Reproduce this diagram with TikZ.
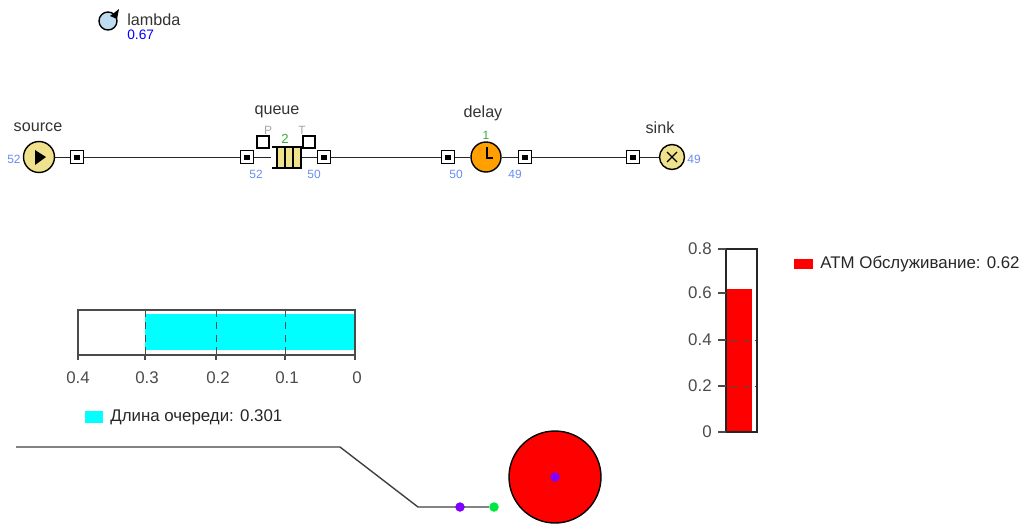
\documentclass[tikz,border=0pt]{standalone}
\usepackage{fontspec}
\setmainfont{Liberation Sans}
\usepackage{xcolor}
\usetikzlibrary{shapes.geometric, arrows}
\definecolor{blockyellow}{RGB}{240,225,140}
\definecolor{delayorange}{RGB}{255,160,0}
\definecolor{countblue}{RGB}{105,140,240}
\definecolor{lambdablue}{RGB}{190,220,240}
\definecolor{tickgray}{RGB}{75,75,75}
\definecolor{barcyan}{RGB}{0,255,255}
\definecolor{barred}{RGB}{255,0,0}
\definecolor{agentviolet}{RGB}{128,0,255}
\definecolor{agentgreen}{RGB}{0,230,64}
\definecolor{sizegreen}{RGB}{60,170,60}
\tikzstyle{port} = [draw,line width=0.8pt,fill=white,minimum size=0.25cm,inner sep=0pt]
\tikzstyle{block} = [circle,draw,line width=0.8pt,inner sep=0pt]
\tikzstyle{flag} = [draw,line width=0.8pt,fill=white,minimum size=0.24cm,inner sep=0pt]
\tikzstyle{blockname} = [font=\fontsize{9.2}{9.2}\selectfont,text=black!80,inner sep=0pt]
\tikzstyle{counter} = [font=\fontsize{6.8}{6.8}\selectfont,text=countblue,inner sep=0pt]
\tikzstyle{chartlabel} = [font=\fontsize{9.6}{9.6}\selectfont,text=tickgray,inner sep=0pt]
\tikzstyle{legend} = [font=\fontsize{9.6}{9.6}\selectfont,text=black!85,inner sep=0pt]
\tikzstyle{wire} = [line width=0.55pt,black!85]
\tikzstyle{griddash} = [tickgray,line width=0.5pt,dashed,dash pattern=on 4pt off 3pt]
\tikzstyle{agent} = [circle,minimum size=0.19cm,inner sep=0pt]
\begin{document}
\begin{tikzpicture}[x=0.02cm,y=-0.02cm]
	\useasboundingbox (0,0) rectangle (1026,524);
	
	% Parameter:
	\node [block,fill=lambdablue,minimum size=0.36cm] (lambda) at (108,21) {};
	\fill (110,16) -- (119,9) -- (117,19) -- cycle;
	\node [blockname,anchor=west] (lambdaname) at (127,20) {lambda};
	\node [counter,anchor=west,text=blue,font=\fontsize{7.8}{7.8}\selectfont] (lambdavalue) at (127,35) {0.67};
	
	% Blocks:
	\node [block,fill=blockyellow,minimum size=0.62cm] (source) at (39,157) {};
	\node [port] (sourceout) at (77,157) {};
	\node [port] (queuein) at (247,157) {};
	\coordinate (queueleft) at (271,157);
	\coordinate (queueright) at (302,157);
	\node [port] (queueout) at (324,157) {};
	\node [port] (delayin) at (448,157) {};
	\node [block,fill=delayorange,minimum size=0.6cm] (delay) at (486,157) {};
	\node [port] (delayout) at (525,157) {};
	\node [port] (sinkin) at (633,157) {};
	\node [block,fill=blockyellow,minimum size=0.5cm] (sink) at (672,157) {};
	
	% Connections:
	\draw [wire] (source) -- (sourceout);
	\draw [wire] (sourceout) -- (queuein);
	\draw [wire] (queuein) -- (queueleft);
	\draw [wire] (queueright) -- (queueout);
	\draw [wire] (queueout) -- (delayin);
	\draw [wire] (delayin) -- (delay);
	\draw [wire] (delay) -- (delayout);
	\draw [wire] (delayout) -- (sinkin);
	\draw [wire] (sinkin) -- (sink);
	
	% Port centres:
	\foreach \p in {sourceout,queuein,queueout,delayin,delayout,sinkin}{%
		\fill [black] ([xshift=-0.06cm,yshift=-0.05cm]\p.center) rectangle ([xshift=0.06cm,yshift=0.05cm]\p.center);
	}
	
	% Queue:
	\fill [blockyellow] (277,148) rectangle (301,167);
	\foreach \x in {277,285,293,301}{%
		\draw [line width=1pt] (\x,148) -- (\x,168);
	}
	\draw [line width=0.8pt] (272,147) -- (302,147);
	\draw [line width=0.8pt] (272,168) -- (302,168);
	\node [flag] (flagp) at (263,142) {};
	\node [flag] (flagt) at (309,142) {};
	
	% Block symbols:
	\fill (35,150) -- (46,157) -- (35,165) -- cycle;
	\draw [line width=0.9pt] (487,147) -- (487,158) -- (493,158);
	\draw [line width=0.7pt] (667,152) -- (677,162);
	\draw [line width=0.7pt] (667,162) -- (677,152);
	
	% Block labels:
	\node [blockname] (sourcename) at (38,127) {source};
	\node [blockname] (queuename) at (277,112) {queue};
	\node [blockname] (delayname) at (483,113) {delay};
	\node [blockname] (sinkname) at (660,128) {sink};
	\node [counter] (sourcecount) at (14,159) {52};
	\node [counter] (queueincount) at (256,174) {52};
	\node [counter] (queueoutcount) at (314,174) {50};
	\node [counter] (delayincount) at (456,174) {50};
	\node [counter] (delayoutcount) at (515,174) {49};
	\node [counter] (sinkcount) at (694,159) {49};
	\node [counter,text=black!35] (flagpname) at (268,130) {P};
	\node [counter,text=black!35] (flagtname) at (302,130) {T};
	\node [counter,text=sizegreen,font=\fontsize{7.5}{7.5}\selectfont] (queuesize) at (285,139) {2};
	\node [counter,text=sizegreen] (delaysize) at (486,135) {1};
	
	% Queue length chart:
	\fill [barcyan] (145,314) rectangle (354,350);
	\foreach \x in {145,216,285}{%
		\draw [griddash] (\x,310) -- (\x,355);
	}
	\draw [line width=0.7pt,tickgray] (78,310) rectangle (355,355);
	\foreach \x/\lx/\t in {78/78/0.4,145/147/0.3,216/218/0.2,285/287/0.1,355/357/0}{%
		\draw [line width=0.7pt,tickgray] (\x,355) -- (\x,360);
		\node [chartlabel] at (\lx,378) {\t};
	}
	\fill [barcyan] (85,411) rectangle (103,423);
	\node [legend,anchor=west] (queuelegend) at (110,417) {Длина очереди: 0.301};
	
	% Utilization chart:
	\fill [barred] (727,289) rectangle (752,431);
	\foreach \y in {340,386}{%
		\draw [griddash] (718,\y) -- (757,\y);
	}
	\draw [line width=0.7pt,black!85] (726,249) rectangle (757,432);
	\foreach \y/\t in {249/0.8,293/0.6,340/0.4,386/0.2,432/0}{%
		\draw [line width=0.7pt,tickgray] (718,\y) -- (726,\y);
		\node [chartlabel,anchor=east] at (712,\y) {\t};
	}
	\fill [barred] (794,259) rectangle (813,269);
	\node [legend,anchor=west] (utillegend) at (820,264) {ATM Обслуживание: 0.62};
	
	% Path and resource:
	\coordinate (pathstart) at (16,447);
	\coordinate (pathbendone) at (340,447);
	\coordinate (pathbendtwo) at (418,507);
	\node [agent,fill=agentgreen] (pathend) at (494,507) {};
	\draw [line width=0.8pt,black!75] (pathstart) -- (pathbendone) -- (pathbendtwo) -- (pathend);
	\node [agent,fill=agentviolet] (pathagent) at (460,507) {};
	\node [circle,draw,line width=0.8pt,fill=barred,minimum size=1.84cm,inner sep=0pt] (resource) at (555,477) {};
	\node [agent,fill=agentviolet] (resourceagent) at (555,477) {};
\end{tikzpicture}
\end{document}
